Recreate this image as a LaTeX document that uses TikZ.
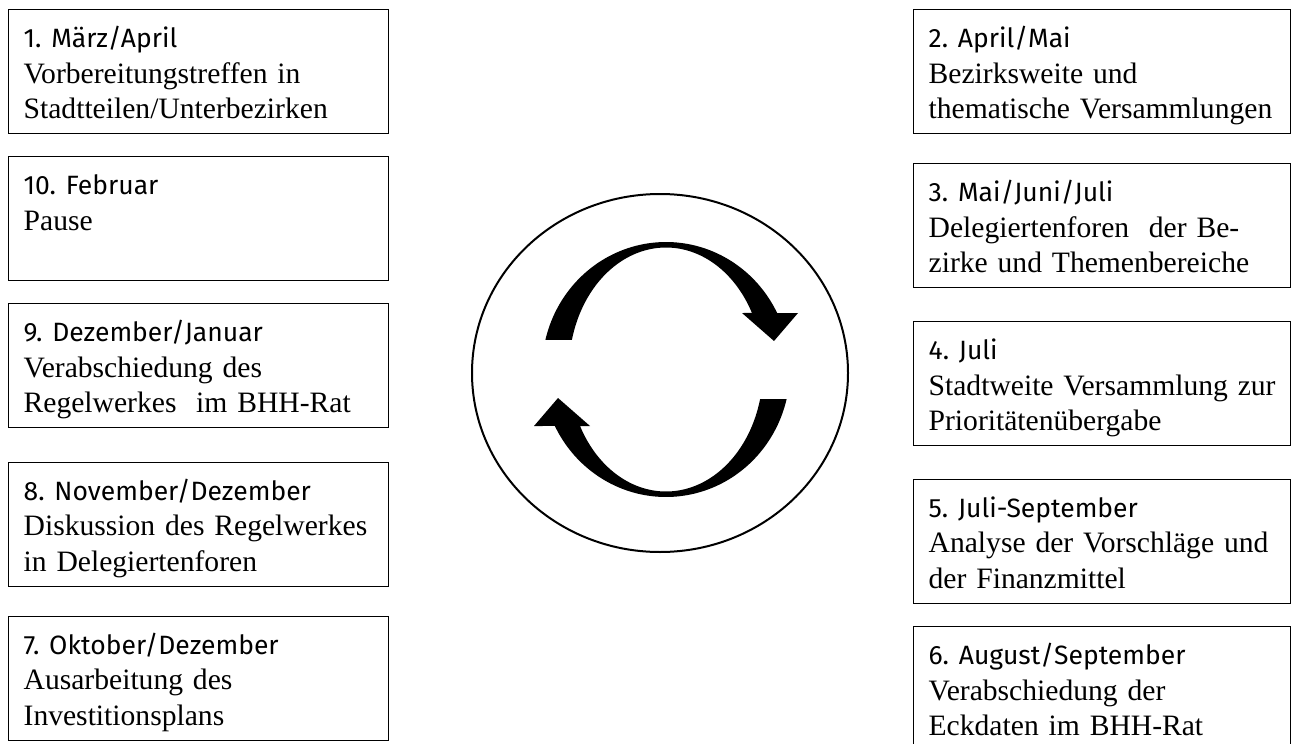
\documentclass[tikz,border=0pt]{standalone}
\usepackage{fontspec}
\setmainfont{Liberation Serif}
\newfontfamily\headfont{Fira Sans}
\frenchspacing
\newcommand\hd[1]{\mbox{\headfont\fontsize{26.5pt}{35.6pt}\selectfont #1}}
\newcommand\bxl[1]{\mbox{#1}}
\tikzset{
  box/.style={draw, line width=1.3pt, anchor=north west, align=left,
    text width=350pt, inner xsep=15pt, inner ysep=0pt,
    text height=38pt, text depth=86pt,
    font=\fontsize{29.6pt}{35.6pt}\selectfont\frenchspacing},
  rbox/.style={box, text width=347pt},
  band/.style={fill=black},
  ring/.style={draw, line width=2pt}
}
\begin{document}
\begin{tikzpicture}[x=1pt,y=-1pt]
\useasboundingbox (0,0) rectangle (1291,744);
\fill[white] (0,0) rectangle (1291,744);
\clip (0,0) rectangle (1291,744);
% left column
\node[box] (b1) at (8,9) {\hd{1. März/April}\\\bxl{Vorbereitungstreffen in}\\\bxl{Stadtteilen/Unterbezirken}};
\node[box] (b10) at (8,156) {\hd{10. Februar}\\\bxl{Pause}};
\node[box] (b9) at (8,303) {\hd{9. Dezember/Januar}\\\bxl{Verabschiedung des}\\\bxl{Regelwerkes\ \ im BHH-Rat}};
\node[box] (b8) at (8,461.5) {\hd{8. November/Dezember}\\\bxl{Diskussion des Regelwerkes}\\\bxl{in Delegiertenforen}};
\node[box] (b7) at (8,615.5) {\hd{7. Oktober/Dezember}\\\bxl{Ausarbeitung des}\\\bxl{Investitionsplans}};
% right column
\node[rbox] (b2) at (913,9) {\hd{2. April/Mai}\\\bxl{Bezirksweite und}\\\bxl{thematische Versammlungen}};
\node[rbox] (b3) at (913,163) {\hd{3. Mai/Juni/Juli}\\\bxl{Delegiertenforen\ \ der Be-}\\\bxl{zirke und Themenbereiche}};
\node[rbox] (b4) at (913,321) {\hd{4. Juli}\\\bxl{Stadtweite Versammlung zur}\\\bxl{Prioritätenübergabe}};
\node[rbox] (b5) at (913,478.5) {\hd{5. Juli-September}\\\bxl{Analyse der Vorschläge und}\\\bxl{der Finanzmittel}};
\node[rbox] (b6) at (913,626) {\hd{6. August/September}\\\bxl{Verabschiedung der}\\\bxl{Eckdaten im BHH-Rat}};
% central circle
\draw[ring] (660,373) ellipse [x radius=188, y radius=179];
% upper arrow
\fill[band] plot[domain=193.4:333.7, samples=80] ({666+124*cos(\x)}, {369.5+127.5*sin(\x)})
  -- (798,313) -- (774,341) -- (742,313)
  -- plot[domain=332.4:194.0, samples=80] ({666+97*cos(\x)}, {369.5+122*sin(\x)}) -- cycle;
% lower arrow
\fill[band] plot[domain=13.4:153.7, samples=80] ({666+124*cos(\x)}, {369.5+127.5*sin(\x)})
  -- (534,426) -- (558,398) -- (590,426)
  -- plot[domain=152.4:14.0, samples=80] ({666+97*cos(\x)}, {369.5+122*sin(\x)}) -- cycle;
\end{tikzpicture}
\end{document}
